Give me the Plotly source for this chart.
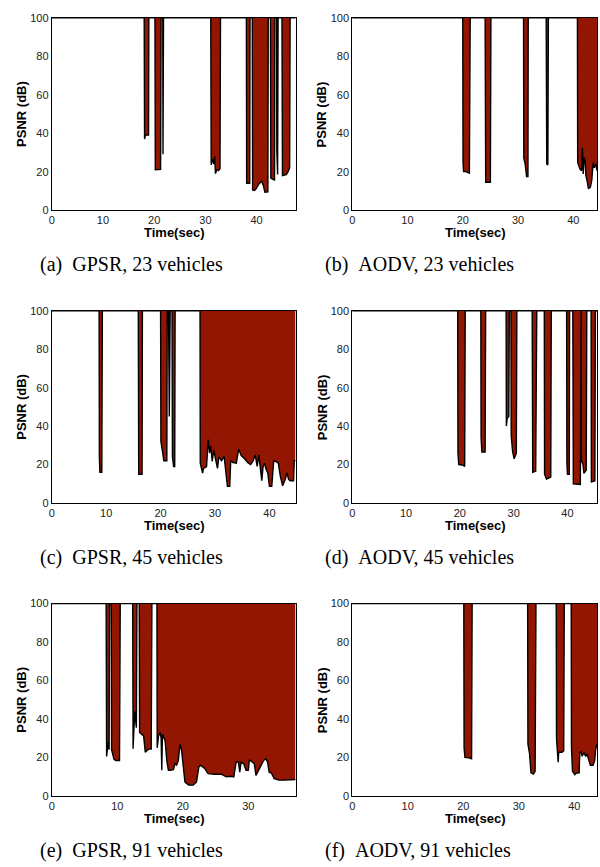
import plotly.graph_objects as go

# ---------------- data ----------------
# (a) GPSR, 23 vehicles
t_a = [0, 18.05, 18.12, 18.3, 18.9, 18.96,
       20.15, 20.22, 21.25, 21.35, 21.68, 21.72, 21.82,
       31.05, 31.13, 31.39, 31.65, 31.8, 31.97, 32.23, 32.56, 32.85, 32.95,
       38.0, 38.06, 38.65, 38.71,
       39.15, 39.22, 39.6, 40.0, 40.4, 40.65, 41.0, 41.29, 41.45, 41.62, 42.2, 42.27,
       42.7, 42.78, 43.2, 43.5, 43.56, 43.9, 43.95, 44.1, 44.2,
       44.95, 45.05, 45.8, 46.15, 46.45, 46.54, 47.6]
psnr_a = [100, 100, 37, 39, 39, 100,
          100, 21, 21.2, 100, 100, 29, 100,
          100, 23.5, 26.5, 24, 28, 19, 21, 20.5, 21.5, 100,
          100, 14, 14, 100,
          100, 10.5, 10.2, 11.5, 13.5, 14, 15, 13, 10, 9.3, 9.5, 100,
          100, 16.7, 16, 15.7, 100, 100, 31, 18.5, 100,
          100, 18, 18.5, 20, 22, 100, 100]

# (b) AODV, 23 vehicles
t_b = [0, 20.0, 20.05, 20.15, 20.6, 21.2, 21.35,
       24.05, 24.15, 25.0, 25.1,
       31.0, 31.05, 31.3, 31.55, 31.8, 31.85,
       35.1, 35.2, 35.4, 35.5,
       40.75, 40.8, 41.2, 41.5, 41.65, 41.8, 41.98, 42.16, 42.28, 42.5, 42.75,
       43.1, 43.35, 43.6, 43.8, 44.07, 44.3]
psnr_b = [100, 100, 25, 20, 20, 19.2, 100,
          100, 14.5, 14.5, 100,
          100, 27, 24, 17.5, 17.5, 100,
          100, 24, 23.5, 100,
          100, 24.8, 21.4, 20.5, 32.5, 18.8, 27.4, 25.6, 18, 15.4, 11.1,
          12, 15.4, 24.8, 22, 24, 20.5]

# (c) GPSR, 45 vehicles
t_c = [0, 8.7, 8.75, 8.85, 9.2, 9.3,
       15.9, 15.98, 16.6, 16.66,
       20.0, 20.06, 20.4, 20.6, 21.15, 21.22, 21.46, 21.6, 21.76,
       22.1, 22.18, 22.4, 22.6, 22.67,
       27.25, 27.29, 27.72, 27.9, 28.45, 28.75, 29.0, 29.24, 29.48, 29.79, 30.09,
       30.46, 30.7, 31.19, 31.67, 31.98, 32.28, 32.71, 32.89, 33.31, 33.92, 34.35,
       34.83, 35.44, 36.05, 36.54, 36.96, 37.39, 37.75, 38.05, 38.36, 38.6, 38.84,
       39.09, 39.39, 39.7, 40.0, 40.43, 40.79, 41.22, 41.64, 42.01, 42.43, 42.86,
       43.22, 43.53, 43.83, 44.44, 44.56, 44.8]
psnr_c = [100, 100, 24, 16, 16, 100,
          100, 15, 15, 100,
          100, 32, 26, 22, 22, 100, 100, 45, 100,
          100, 24, 19, 19, 100,
          100, 20.7, 15.6, 18, 19, 33, 26, 29.6, 21.7, 27.6, 23,
          18, 24, 22, 24.3, 16.4, 8.7, 8.7, 22, 21, 20.7, 28,
          24.7, 23, 21, 20, 21.6, 25, 19, 25, 17.6, 11.6, 19,
          20.7, 17.6, 15.6, 8.7, 8.7, 22, 21.6, 20.7, 13.9, 9, 12,
          15.6, 12.3, 11.6, 11.6, 22, 22]

# (d) AODV, 45 vehicles
t_d = [0, 19.6, 19.65, 19.8, 20.5, 20.9, 21.0,
       23.9, 23.95, 24.1, 24.7, 24.8,
       28.6, 28.65, 28.8, 29.1, 29.2,
       29.5, 29.55, 29.8, 30.1, 30.3, 30.5, 30.6,
       33.45, 33.55, 34.1, 34.3,
       35.7, 35.75, 36.1, 36.5, 36.9, 37.0,
       39.85, 39.9, 40.0, 40.35, 40.4,
       41.0, 41.1, 42.4, 42.5,
       42.55, 42.6, 42.9, 43.05, 43.5, 43.6,
       44.4, 44.45, 45.1, 45.2, 45.5]
psnr_d = [100, 100, 26, 20, 19.8, 19, 100,
          100, 34, 26.5, 26.5, 100,
          100, 40, 44, 45, 100,
          100, 35, 27, 23, 25, 26, 100,
          100, 16, 16.5, 100,
          100, 15, 12.5, 13, 13.5, 100,
          100, 21, 15, 15, 100,
          100, 10, 9.6, 100,
          100, 22, 20, 15.5, 17, 100,
          100, 11, 11.5, 100, 100]

# (e) GPSR, 91 vehicles
t_e = [0, 8.3, 8.37, 8.62, 8.75, 8.83,
       9.08, 9.13, 9.48, 9.73, 10.34, 10.45,
       12.35, 12.41, 12.66, 12.91, 13.0,
       13.35, 13.41, 14.02, 14.27, 14.78, 15.18, 15.28,
       16.05, 16.09, 16.29, 16.54, 16.69, 16.79, 16.89, 17.3, 17.55, 17.8, 18.05,
       18.56, 18.81, 19.06, 19.31, 19.57, 19.82, 20.07, 20.32, 20.57, 20.93, 21.58,
       22.09, 22.44, 22.74, 23.35, 23.85, 24.86, 25.87, 26.63, 27.38, 27.78, 28.13,
       28.49, 28.69, 28.89, 29.3, 29.65, 30.0, 30.16, 30.51, 30.92, 31.16, 31.52,
       31.92, 32.33, 32.68, 32.93, 33.18, 33.53, 33.94, 34.7, 35.45, 36.21, 37.2]
psnr_e = [100, 100, 20.5, 28, 24, 100,
          100, 24, 19.3, 18.4, 18.4, 100,
          100, 24.5, 44, 35.5, 100,
          100, 33, 31.2, 22.7, 24.4, 24.4, 100,
          100, 25, 31, 33, 30, 13.3, 32, 28.7, 18.4, 13.3, 13.3,
          13.7, 16.7, 16, 18.4, 27, 23.5, 15, 7.3, 6.5, 5.6, 5.6,
          7.3, 15, 16, 14.2, 11.6, 11.3, 11.3, 9.9, 10.2, 9.9, 17.6,
          17.6, 12.3, 17.6, 16.7, 13.3, 13.3, 18.8, 17.6, 16.7, 10.7, 13.3,
          16, 18.4, 19.3, 17.6, 12.3, 11.8, 9, 8.2, 8.2, 8.5, 8.5]

# (f) AODV, 91 vehicles
t_f = [0, 20.1, 20.15, 20.3, 21.0, 21.5, 21.6,
       31.6, 31.65, 31.95, 32.2, 32.65, 32.95, 33.1,
       36.75, 36.8, 37.1, 37.2, 37.8, 38.1, 38.2,
       39.45, 39.5, 39.68, 40.1, 40.4, 40.88, 41.0, 41.18, 41.42, 41.72, 42.07,
       42.31, 42.67, 42.9, 43.38, 43.68, 43.86, 44.1]
psnr_f = [100, 100, 25, 20, 19.8, 19.3, 100,
          100, 27, 21.8, 12, 11.4, 12.8, 100,
          100, 30, 17.5, 22.7, 22.7, 23.5, 100,
          100, 25, 12.8, 11.1, 11.9, 12, 22.5, 23.2, 20.6, 22.5, 20.6,
          21.8, 17.6, 15.9, 15.9, 18.4, 24.2, 27]

captions = ["(a)\u00a0\u00a0GPSR, 23 vehicles", "(b)\u00a0\u00a0AODV, 23 vehicles",
            "(c)\u00a0\u00a0GPSR, 45 vehicles", "(d)\u00a0\u00a0AODV, 45 vehicles",
            "(e)\u00a0\u00a0GPSR, 91 vehicles", "(f)\u00a0\u00a0AODV, 91 vehicles"]
x_max = [47.6, 44.3, 44.8, 45.5, 37.2, 44.1]
y_ticks = [0, 20, 40, 60, 80, 100]

series = [(t_a, psnr_a), (t_b, psnr_b), (t_c, psnr_c),
          (t_d, psnr_d), (t_e, psnr_e), (t_f, psnr_f)]

# ---------------- layout (pixel geometry) ----------------
W, H = 600, 867
col_x = [(49, 294), (351, 597)]
row_y = [(12, 207), (309, 504), (606, 801)]

def px(x):
    return x / W

def py(y):
    return 1 - y / H

FILL = "rgb(146,22,2)"
TICKFONT = dict(family="Liberation Sans, Arial, sans-serif", size=11, color="#222")
LABFONT = dict(family="Liberation Sans, Arial, sans-serif", size=13, color="black")

fig = go.Figure()
layout = dict(width=W, height=H, margin=dict(l=0, r=0, t=0, b=0),
              paper_bgcolor="white", plot_bgcolor="white", showlegend=False,
              annotations=[])

for i, (t, p) in enumerate(series):
    r, c = divmod(i, 2)
    n = i + 1
    xa = "x" if n == 1 else f"x{n}"
    ya = "y" if n == 1 else f"y{n}"
    xkey = "xaxis" if n == 1 else f"xaxis{n}"
    ykey = "yaxis" if n == 1 else f"yaxis{n}"
    x0, x1 = col_x[c]
    y0, y1 = row_y[r]

    # reference level at 100 dB (fill boundary)
    fig.add_trace(go.Scatter(x=[0, x_max[i]], y=[100, 100], mode="lines",
                             line=dict(width=0, color="rgba(0,0,0,0)"),
                             xaxis=xa, yaxis=ya, hoverinfo="skip"))
    fig.add_trace(go.Scatter(x=t, y=p, mode="lines", fill="tonexty",
                             fillcolor=FILL, line=dict(color="black", width=1.4),
                             xaxis=xa, yaxis=ya))

    layout[xkey] = dict(domain=[px(x0), px(x1)], anchor=ya, range=[0, x_max[i]],
                        showgrid=False, zeroline=False, showline=True, mirror=True,
                        linecolor="black", linewidth=1, ticks="", dtick=10,
                        tick0=0, tickfont=TICKFONT, fixedrange=True)
    layout[ykey] = dict(domain=[py(y1), py(y0)], anchor=xa, range=[0, 100],
                        showgrid=False, zeroline=False, showline=True, mirror=True,
                        linecolor="black", linewidth=1, ticks="", tickvals=y_ticks,
                        tickfont=TICKFONT, fixedrange=True)

    cx = (x0 + x1) / 2
    layout["annotations"].append(dict(
        text="<b>Time(sec)</b>", x=px(cx), y=py(y1 + 23), xref="paper", yref="paper",
        showarrow=False, font=LABFONT, xanchor="center", yanchor="middle"))
    layout["annotations"].append(dict(
        text="<b>PSNR (dB)</b>", x=px(x0 - 30), y=py((y0 + y1) / 2), xref="paper",
        yref="paper", showarrow=False, font=LABFONT, textangle=-90,
        xanchor="center", yanchor="middle"))
    cap_x = [35, 322][c]
    layout["annotations"].append(dict(
        text=captions[i], x=px(cap_x), y=py(y1 + 55), xref="paper", yref="paper",
        showarrow=False, xanchor="left", yanchor="middle",
        font=dict(family="Liberation Serif, Times New Roman, serif", size=20,
                  color="black")))

fig.update_layout(**layout)
fig.write_html("out.html")
